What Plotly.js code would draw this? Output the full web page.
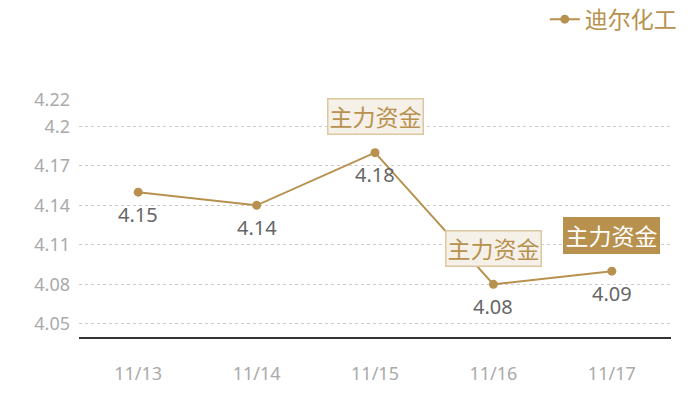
<!DOCTYPE html>
<html>
<head>
<meta charset="utf-8">
<script src="https://cdn.plot.ly/plotly-3.0.1.min.js"></script>
<style>
  html, body { margin: 0; padding: 0; background: #fff; }
  #plot { width: 700px; height: 400px; }
</style>
</head>
<body>
<div id="plot"></div>
<script>
// datos del grafico
const dates = ['11/13', '11/14', '11/15', '11/16', '11/17'];
const prices = [4.15, 4.14, 4.18, 4.08, 4.09];
const seriesName = '迪尔化工';
const yTicks = [4.05, 4.08, 4.11, 4.14, 4.17, 4.2, 4.22];
const yTickText = ['4.05', '4.08', '4.11', '4.14', '4.17', '4.2', '4.22'];
const flagDates = ['11/15', '11/16', '11/17'];
const flagText = '主力资金';

const gold = '#b8914f';
const font = 'Noto Sans, Noto Sans CJK SC, sans-serif';

const trace = {
  type: 'scatter',
  mode: 'lines+markers',
  x: dates,
  y: prices,
  name: seriesName,
  line: { color: gold, width: 2 },
  marker: { color: gold, size: 9 },
  hoverinfo: 'none'
};

// etiquetas de valor bajo cada punto
const valueLabels = dates.map((d, i) => ({
  x: d,
  y: prices[i],
  xref: 'x',
  yref: 'y',
  text: prices[i].toFixed(2),
  showarrow: false,
  yshift: -22,
  font: { size: 20, color: '#666', family: font }
}));

// cuadros "主力资金" sobre los puntos; el ultimo va resaltado
const flags = flagDates.map((d, i) => {
  const last = i === flagDates.length - 1;
  return {
    x: d,
    y: prices[dates.indexOf(d)],
    xref: 'x',
    yref: 'y',
    text: flagText,
    showarrow: false,
    yshift: 36,
    font: { size: 23, color: last ? '#fff' : gold, family: font },
    bgcolor: last ? gold : '#f5f0e8',
    bordercolor: last ? gold : '#dcc7a0',
    borderwidth: 1.5,
    borderpad: 1
  };
});

const layout = {
  width: 700,
  height: 400,
  margin: { l: 79, r: 29, t: 100, b: 63 },
  paper_bgcolor: '#fff',
  plot_bgcolor: '#fff',
  font: { family: font },
  showlegend: true,
  legend: {
    orientation: 'h',
    xref: 'container', yref: 'container',
    x: 0.974, xanchor: 'right',
    y: 0.952, yanchor: 'middle',
    font: { size: 23, color: gold, family: font },
    itemwidth: 30
  },
  xaxis: {
    type: 'category',
    range: [-0.5, dates.length - 0.5],
    showgrid: false,
    showline: true,
    linecolor: '#333',
    linewidth: 1.5,
    ticks: '',
    tickfont: { size: 18, color: '#aaa', family: font },
    ticklabelstandoff: 20,
    fixedrange: true
  },
  yaxis: {
    range: [4.04, 4.22],
    tickvals: yTicks,
    ticktext: yTickText,
    showgrid: true,
    gridcolor: '#ccc',
    griddash: 'dot',
    gridwidth: 1,
    zeroline: false,
    showline: false,
    ticks: '',
    tickfont: { size: 18, color: '#aaa', family: font },
    ticklabelstandoff: 8,
    fixedrange: true
  },
  annotations: valueLabels.concat(flags)
};

Plotly.newPlot('plot', [trace], layout, { staticPlot: true, displayModeBar: false });
</script>
</body>
</html>
